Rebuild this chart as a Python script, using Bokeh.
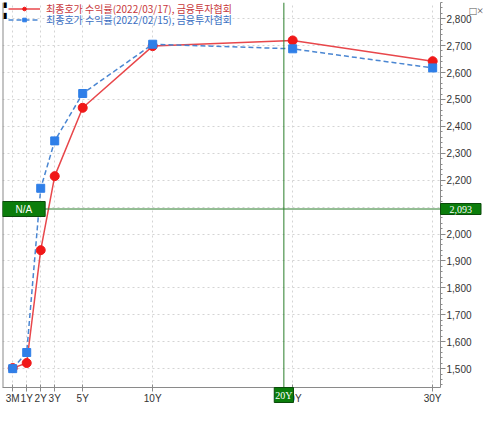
from bokeh.plotting import figure
from bokeh.models import (Range1d, FixedTicker, NumeralTickFormatter, Span, Label,
                          Legend, LegendItem)
from bokeh.embed import file_html
from bokeh.resources import INLINE

# ---- data ----
tenor_labels = ["3M", "1Y", "2Y", "3Y", "5Y", "10Y", "20Y", "30Y"]
tenor_pos = [0, 1, 2, 3, 5, 10, 20, 30]
yield_0317 = [1502, 1521, 1940, 2215, 2469, 2698, 2719, 2642]
yield_0215 = [1500, 1560, 2170, 2346, 2522, 2705, 2688, 2617]
series_names = ["최종호가 수익률(2022/03/17), 금융투자협회",
                "최종호가 수익률(2022/02/15), 금융투자협회"]
y_ticks = list(range(1500, 2801, 100))
y_minor = list(range(1440, 2861, 20))
cross_x = 19.37
cross_y = 2093
cross_x_label = "20Y"
cross_y_label = "2,093"

RED = "#e8474b"
RED_M = "#f01818"
BLUE = "#4a86d2"
BLUE_M = "#2f7fe8"
GREEN = "#2a7d2a"
BOX = "#0b7d0b"

W, H = 484, 406
ML, MT, MR, MB = 2, 2, 44, 16
FW, FH = W - ML - MR, H - MT - MB
X0, X1 = -0.73, 30.56
Y0, Y1 = 1430, 2860

p = figure(width=W, height=H, output_backend="svg", toolbar_location=None,
           x_range=Range1d(X0, X1), y_range=Range1d(Y0, Y1),
           y_axis_location="right", min_border_left=ML, min_border_top=MT,
           min_border_right=MR, min_border_bottom=MB)
p.outline_line_color = None
p.background_fill_color = "white"

# grids
p.xgrid.ticker = FixedTicker(ticks=tenor_pos)
p.ygrid.ticker = FixedTicker(ticks=y_ticks)
for g in (p.xgrid, p.ygrid):
    g.grid_line_color = "#d4d4d4"
    g.grid_line_dash = "2 3"

# axes
xa = p.xaxis[0]
xa.ticker = FixedTicker(ticks=tenor_pos)
xa.major_label_overrides = {t: l for t, l in zip(tenor_pos, tenor_labels)}
xa.axis_line_color = "#8a8a8a"
xa.major_tick_line_color = "#8a8a8a"
xa.major_tick_out = 4
xa.major_tick_in = 3
xa.minor_tick_line_color = None
xa.major_label_standoff = 1
xa.major_label_text_font = "Liberation Sans"
xa.major_label_text_font_size = "10px"
xa.major_label_text_color = "#333333"

ya = p.yaxis[0]
ya.ticker = FixedTicker(ticks=y_ticks, minor_ticks=y_minor)
ya.formatter = NumeralTickFormatter(format="0,0")
ya.axis_line_color = "#8a8a8a"
ya.major_tick_line_color = "#8a8a8a"
ya.minor_tick_line_color = "#8a8a8a"
ya.major_tick_out = 5
ya.major_tick_in = 0
ya.minor_tick_out = 2
ya.minor_tick_in = 0
ya.major_label_standoff = 1
ya.major_label_text_font = "Liberation Sans"
ya.major_label_text_font_size = "10px"
ya.major_label_text_color = "#333333"

# left window edge
p.add_layout(Span(location=X0, dimension="height", line_color="#8a8a8a", line_width=2))

# series
l1 = p.line(tenor_pos, yield_0317, line_color=RED, line_width=1.5)
s1 = p.scatter(tenor_pos, yield_0317, marker="circle", size=9,
               fill_color=RED_M, line_color=RED_M)
l2 = p.line(tenor_pos, yield_0215, line_color=BLUE, line_width=1.5, line_dash="5 3")
s2 = p.scatter(tenor_pos, yield_0215, marker="square", size=8,
               fill_color=BLUE_M, line_color=BLUE_M)

# crosshair
p.add_layout(Span(location=cross_y, dimension="width", line_color=GREEN, line_width=1))
p.add_layout(Span(location=cross_x, dimension="height", line_color=GREEN, line_width=1))

lab_kw = dict(text_color="white", text_font="Liberation Sans", text_font_size="10px",
              background_fill_color=BOX, border_line_color="#0a4a0a",
              border_line_width=1)
p.add_layout(Label(x=X0, y=cross_y, text="N/A", text_align="left",
                   text_baseline="middle", padding=(13, 2), **lab_kw))
# crosshair read-outs on the axes: text glyphs at overlay level
txt_kw = dict(text_color="white", text_font="Liberation Sans", text_font_size="10px",
              background_fill_color=BOX, border_line_color="#0a4a0a",
              border_line_width=1, level="overlay")
p.text(x=[X1], y=[cross_y], text=[cross_y_label], anchor="center_left",
       padding=(9, 2), **txt_kw)
p.text(x=[cross_x], y=[Y0], text=[cross_x_label], anchor="top_center",
       padding=(1, 2), **txt_kw)
# window buttons at the top-right corner
p.text(x=[X1], y=[Y1], text=["□×"], anchor="top_left", x_offset=29, y_offset=1,
       text_color="#555555", text_font="DejaVu Sans", text_font_size="12px",
       level="overlay")

# legends (one per series so each label keeps its colour)
for i, (name, rends, col) in enumerate([(series_names[0], [l1, s1], "#c8383c"),
                                         (series_names[1], [l2, s2], "#3b6fc2")]):
    lg = Legend(items=[LegendItem(label=name, renderers=rends)],
                location=(6, FH - 17 - 10.5 * i), orientation="vertical",
                background_fill_alpha=0, border_line_color=None,
                label_text_font="Noto Sans CJK KR", label_text_font_size="10px",
                label_text_line_height=1.0,
                label_text_color=col, glyph_width=32, glyph_height=9,
                label_height=9, label_standoff=6, padding=0, margin=0, spacing=0)
    p.add_layout(lg)

for i in range(2):
    p.add_layout(Label(x=0, y=FH - 5 - 10.5 * i, x_units="screen", y_units="screen",
                       text="▮", text_color="black", text_font_size="8px",
                       text_baseline="middle"))

open("out.html", "w").write(file_html(p, INLINE))
